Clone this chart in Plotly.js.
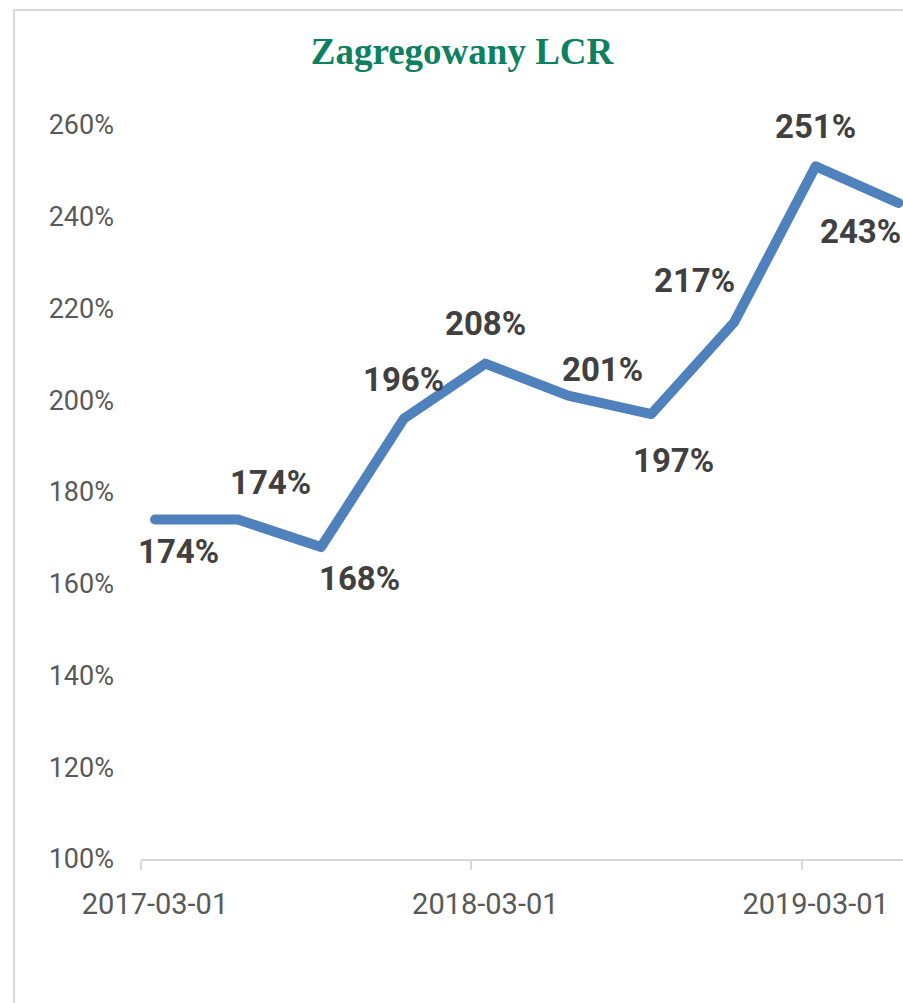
<!DOCTYPE html>
<html>
<head>
<meta charset="utf-8">
<script src="https://cdn.plot.ly/plotly-3.0.1.min.js"></script>
<style>
  html, body { margin: 0; padding: 0; background: #ffffff; overflow: hidden; width: 903px; height: 1003px; }
  #chart { position: absolute; left: 0; top: 0; width: 930px; height: 1003px; }
  #frame { position: absolute; left: 13px; top: 9px; width: 1000px; height: 1100px;
           border-left: 2px solid #d9d9d9; border-top: 2px solid #d9d9d9; pointer-events: none; }
  #chart .scatterlayer path { stroke-linecap: round !important; stroke-linejoin: round !important; }
</style>
</head>
<body>
<div id="chart"></div>
<div id="frame"></div>
<script>
// Data (quarterly observations)
const dates = ['2017-03-01','2017-06-01','2017-09-01','2017-12-01','2018-03-01',
               '2018-06-01','2018-09-01','2018-12-01','2019-03-01','2019-06-01'];
const lcrValues = [174, 174, 168, 196, 208, 201, 197, 217, 251, 243];
const xTickVals = ['2017-03-01','2018-03-01','2019-03-01'];
const xTickText = ['2017-03-01','2018-03-01','2019-03-01'];
const yTickVals = [100, 120, 140, 160, 180, 200, 220, 240, 260];
const yTickText = ['100%','120%','140%','160%','180%','200%','220%','240%','260%'];

// Label placement offsets (px) – styling only
const labelShiftX = [23, 33, 38, 0, 0, 34, 22, -40, 0, -38];
const labelShiftY = [-32, 37, -31, 39, 40, 26, -46, 42, 40, -29];

const trace = {
  x: dates,
  y: lcrValues,
  xperiod: 'M1',
  xperiodalignment: 'middle',
  type: 'scatter',
  mode: 'lines',
  line: { color: '#4f81bd', width: 10 },
  hoverinfo: 'skip'
};

function midMonth(d) {
  const t = new Date(d + 'T00:00:00Z');
  const n = new Date(Date.UTC(t.getUTCFullYear(), t.getUTCMonth() + 1, 1));
  const m = new Date((t.getTime() + n.getTime()) / 2);
  return m.toISOString().slice(0, 19).replace('T', ' ');
}

const annotations = lcrValues.map((v, i) => ({
  x: midMonth(dates[i]),
  y: v,
  xref: 'x', yref: 'y',
  text: v + '%',
  showarrow: false,
  xshift: labelShiftX[i],
  yshift: labelShiftY[i],
  font: { family: 'Roboto, "Open Sans", sans-serif', size: 33, color: '#404040', weight: 'bold' }
}));

const layout = {
  width: 930,
  height: 1003,
  margin: { l: 141, r: 18, t: 125, b: 144 },
  paper_bgcolor: 'rgba(0,0,0,0)',
  plot_bgcolor: 'rgba(0,0,0,0)',
  showlegend: false,
  title: {
    text: '<b>Zagregowany LCR</b>',
    font: { family: '"Liberation Serif", "Times New Roman", serif', size: 37, color: '#0d8060' },
    xref: 'container', x: 462 / 930, xanchor: 'center',
    yref: 'container', y: 1 - 51 / 1003, yanchor: 'middle'
  },
  xaxis: {
    type: 'date',
    range: ['2017-03-01', '2019-07-01'],
    tickmode: 'array',
    tickvals: xTickVals,
    ticktext: xTickText,
    ticks: 'outside',
    ticklen: 9,
    tickwidth: 2,
    tickcolor: '#d9d9d9',
    showline: true,
    linecolor: '#d9d9d9',
    linewidth: 2,
    showgrid: false,
    zeroline: false,
    ticklabelshift: 14,
    ticklabelstandoff: 9,
    tickfont: { family: 'Roboto, "Open Sans", sans-serif', size: 29, color: '#595959' },
    fixedrange: true
  },
  yaxis: {
    range: [100, 260],
    tickmode: 'array',
    tickvals: yTickVals,
    ticktext: yTickText,
    showline: false,
    showgrid: false,
    zeroline: false,
    ticks: '',
    ticklabelstandoff: 26,
    tickfont: { family: 'Roboto, "Open Sans", sans-serif', size: 27, color: '#595959' },
    fixedrange: true
  },
  annotations: annotations
};

Plotly.newPlot('chart', [trace], layout, { displayModeBar: false, staticPlot: true });
</script>
</body>
</html>
